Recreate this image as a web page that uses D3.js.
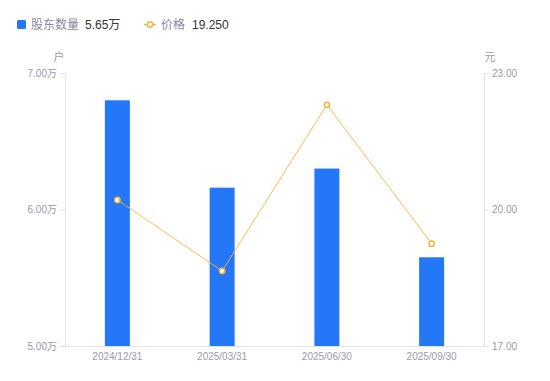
<!DOCTYPE html>
<html><head><meta charset="utf-8">
<script src="https://cdn.jsdelivr.net/npm/d3@7"></script>
<style>body{margin:0;background:#fff;font-family:"Noto Sans CJK SC","Noto Sans",sans-serif;}</style>
</head><body><svg id="c" width="550" height="381"></svg>
<script>
const categories = ["2024/12/31","2025/03/31","2025/06/30","2025/09/30"];
const holders = [6.80, 6.16, 6.30, 5.65];
const prices = [20.21, 18.65, 22.30, 19.25];
const leftTicks = [5, 6, 7];
const rightTicks = [17, 20, 23];

const svg = d3.select("#c");
const m = {l:65, r:484, t:73, b:346};
const x = d3.scaleBand().domain(categories).range([m.l, m.r]);
const yL = d3.scaleLinear().domain([5,7]).range([m.b, m.t]);
const yR = d3.scaleLinear().domain([17,23]).range([m.b, m.t]);
const axisColor = "#e3e3e8", textColor = "#9b9bab";
const mixFont = "'Liberation Sans','Noto Sans CJK SC',sans-serif";

const axL = svg.append("g").attr("transform",`translate(${m.l},0)`)
  .call(d3.axisLeft(yL).tickValues(leftTicks).tickSize(5).tickPadding(3).tickFormat(d=>d.toFixed(2)+"万"));
const axR = svg.append("g").attr("transform",`translate(${m.r},0)`)
  .call(d3.axisRight(yR).tickValues(rightTicks).tickSize(5).tickPadding(3).tickFormat(d=>d.toFixed(2)));
const axB = svg.append("g").attr("transform",`translate(0,${m.b})`)
  .call(d3.axisBottom(x).tickSize(0).tickPadding(7));
[axL,axR,axB].forEach(a=>{
  a.selectAll("path,line").attr("stroke",axisColor);
  a.selectAll("text").attr("fill",textColor).attr("font-size",10).attr("font-family",mixFont);
});
axB.select(".domain").attr("d",`M${m.l},0.5H${m.r}`);

svg.append("text").attr("x",59).attr("y",61).attr("text-anchor","middle").attr("font-size",11).attr("fill",textColor).text("户");
svg.append("text").attr("x",490).attr("y",61).attr("text-anchor","middle").attr("font-size",11).attr("fill",textColor).text("元");

const bw = 25;
svg.selectAll("rect.bar").data(holders).join("rect").attr("class","bar")
  .attr("x",(d,i)=>x(categories[i])+x.bandwidth()/2-bw/2)
  .attr("width",bw)
  .attr("y",d=>yL(d)).attr("height",d=>m.b-yL(d))
  .attr("fill","#2477f6");

const orange = "#f7b23b";
const line = d3.line().x((d,i)=>x(categories[i])+x.bandwidth()/2).y(d=>yR(d));
svg.append("path").datum(prices).attr("d",line).attr("fill","none").attr("stroke",orange).attr("stroke-width",0.9);
svg.selectAll("circle.pt").data(prices).join("circle").attr("class","pt")
  .attr("cx",(d,i)=>x(categories[i])+x.bandwidth()/2).attr("cy",d=>yR(d))
  .attr("r",2.7).attr("fill","#fff").attr("stroke",orange).attr("stroke-width",1.5);

const lg = svg.append("g").attr("font-size",12);
lg.append("rect").attr("x",17).attr("y",20).attr("width",9).attr("height",9).attr("rx",1.5).attr("fill","#2477f6");
lg.append("text").attr("x",31).attr("y",29).attr("fill","#8a8a9a").text("股东数量");
lg.append("text").attr("x",85).attr("y",29).attr("fill","#333").attr("font-family",mixFont).text(holders[holders.length-1].toFixed(2)+"万");
lg.append("line").attr("x1",144).attr("x2",156).attr("y1",24.5).attr("y2",24.5).attr("stroke",orange).attr("stroke-width",1.5);
lg.append("circle").attr("cx",150).attr("cy",24.5).attr("r",2.7).attr("fill","#fff").attr("stroke",orange).attr("stroke-width",1.5);
lg.append("text").attr("x",161).attr("y",29).attr("fill","#8a8a9a").text("价格");
lg.append("text").attr("x",192).attr("y",29).attr("fill","#333").attr("font-family",mixFont).text(prices[prices.length-1].toFixed(3));
</script></body></html>
